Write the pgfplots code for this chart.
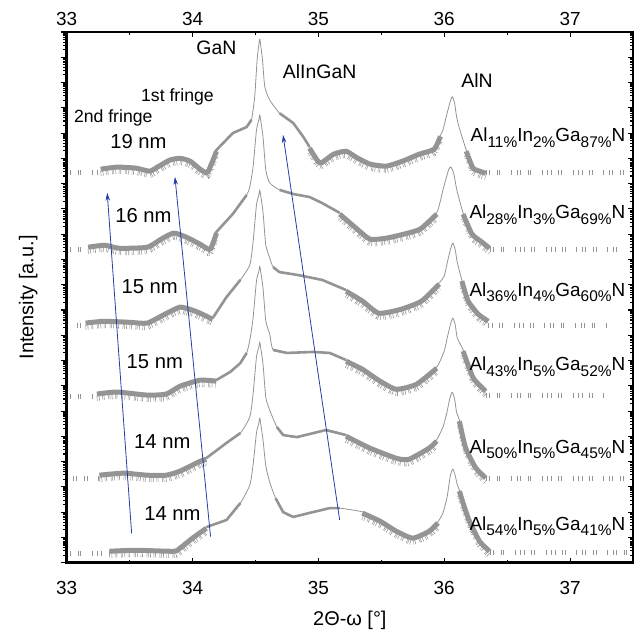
\documentclass[border=0pt]{standalone}
\usepackage{fontspec}
\setmainfont{Liberation Sans}
\usepackage{pgfplots}
\pgfplotsset{compat=1.18}
\usepackage{pgfplotstable}
\usetikzlibrary{arrows.meta}

\definecolor{tracegray}{gray}{0.58}
\definecolor{arrowblue}{RGB}{40,60,165}

% subscripts as in the original figure (large, lowered)
\newcommand{\sub}[1]{\raisebox{-5.5pt}{\fontsize{15.5}{16}\selectfont #1}}

% minor ticks of a log axis, y in decades
\def\minorlist{-1}
\foreach \k in {0,...,20}{%
  \foreach \m in {0.301,0.477,0.602,0.699,0.778,0.845,0.903,0.954}{%
    \pgfmathsetmacro\v{\k+\m}%
    \xdef\minorlist{\minorlist,\v}%
  }%
}

% y = log10 of intensity (a.u.), each scan shifted by 3 decades
\pgfplotstableread{
x d
33.27 15.62
33.40 15.70
33.55 15.66
33.66 15.54
33.72 15.70
33.82 15.98
33.90 16.05
33.98 15.94
34.06 15.62
34.12 15.50
34.19 16.33
34.32 17.00
34.43 17.24
34.468 17.52
34.494 18.44
34.513 19.89
34.527 20.50
34.534 20.72
34.541 20.50
34.556 19.89
34.574 18.84
34.613 18.31
34.693 17.78
34.80 17.40
34.88 16.85
34.93 16.45
34.98 16.05
35.02 15.86
35.12 16.21
35.22 16.33
35.30 16.09
35.41 15.82
35.54 15.74
35.67 15.94
35.80 16.21
35.92 16.41
35.97 16.92
35.99 17.12
36.016 17.65
36.045 18.20
36.063 18.44
36.082 18.20
36.098 17.65
36.12 17.20
36.175 16.33
36.227 15.67
36.28 15.54
36.33 15.46
}\tA

\pgfplotstableread{
x d
33.17 12.53
33.30 12.61
33.42 12.49
33.64 12.53
33.75 12.85
33.85 13.09
33.95 12.93
34.06 12.65
34.14 12.45
34.19 13.09
34.32 13.80
34.43 14.55
34.455 14.87
34.481 15.66
34.508 17.12
34.527 17.52
34.534 17.72
34.541 17.52
34.56 16.85
34.582 15.54
34.613 15.03
34.692 14.75
34.80 14.59
34.93 14.47
35.03 14.23
35.17 13.84
35.30 13.28
35.41 12.85
35.54 12.89
35.68 13.05
35.81 13.25
35.94 13.84
35.99 14.75
36.02 15.30
36.035 15.55
36.05 15.66
36.065 15.55
36.08 15.30
36.10 14.75
36.15 13.84
36.22 13.05
36.29 12.77
36.36 12.49
}\tB

\pgfplotstableread{
x d
33.15 9.53
33.30 9.60
33.50 9.56
33.64 9.53
33.78 9.88
33.90 10.16
34.00 10.04
34.06 9.92
34.16 9.68
34.27 10.51
34.38 11.19
34.455 11.78
34.481 12.69
34.508 14.16
34.527 14.55
34.534 14.75
34.541 14.55
34.56 13.88
34.582 12.57
34.613 12.06
34.64 11.70
34.69 11.50
34.83 11.39
35.03 11.19
35.22 10.79
35.35 10.40
35.48 9.92
35.66 10.08
35.82 10.40
35.96 11.07
36.00 11.35
36.023 11.85
36.048 12.37
36.068 12.65
36.088 12.37
36.103 11.90
36.14 11.19
36.19 10.40
36.27 9.88
36.35 9.60
}\tC

\pgfplotstableread{
x d
33.24 6.72
33.40 6.80
33.64 6.68
33.79 6.72
33.90 7.03
34.06 7.27
34.19 7.23
34.30 7.55
34.38 7.90
34.43 8.30
34.455 8.80
34.481 9.68
34.508 11.15
34.527 11.54
34.534 11.74
34.541 11.54
34.56 10.87
34.582 9.56
34.613 9.05
34.64 8.42
34.75 8.30
34.96 8.34
35.09 8.30
35.22 8.02
35.35 7.70
35.49 7.23
35.62 6.91
35.78 7.11
35.94 7.74
36.00 8.38
36.023 8.88
36.048 9.40
36.068 9.68
36.088 9.40
36.103 8.90
36.15 8.42
36.23 7.36
36.33 6.83
}\tD

\pgfplotstableread{
x d
33.26 3.51
33.45 3.59
33.64 3.51
33.79 3.51
33.90 3.67
34.06 4.06
34.11 4.14
34.27 4.74
34.38 5.13
34.455 5.77
34.481 6.67
34.508 8.14
34.527 8.53
34.534 8.73
34.541 8.53
34.56 7.86
34.582 6.55
34.613 6.04
34.67 5.37
34.72 5.05
34.83 4.97
35.06 5.25
35.22 5.05
35.41 4.58
35.62 4.18
35.72 4.14
35.88 4.58
35.94 4.86
35.99 5.37
36.02 5.92
36.043 6.47
36.063 6.75
36.083 6.47
36.098 5.95
36.12 5.65
36.17 4.59
36.25 3.80
36.33 3.40
}\tE

\pgfplotstableread{
x d
33.34 0.50
33.55 0.54
33.85 0.50
33.90 0.62
34.00 1.02
34.11 1.41
34.27 1.69
34.38 2.36
34.455 3.07
34.481 3.87
34.508 5.14
34.527 5.53
34.534 5.73
34.541 5.53
34.56 4.86
34.582 3.83
34.613 3.19
34.66 2.55
34.72 2.00
34.80 1.81
34.93 1.97
35.09 2.16
35.17 2.16
35.35 2.01
35.49 1.69
35.62 1.29
35.75 1.02
35.88 1.29
35.95 1.62
35.99 1.97
36.023 2.60
36.048 3.43
36.068 3.71
36.088 3.43
36.103 3.10
36.12 2.88
36.16 2.25
36.20 1.69
36.28 0.90
36.36 0.50
}\tF

\pgfplotsset{scan/.style={tracegray, smooth, tension=0.35, line join=round}}

\newcommand{\medium}[3]{%
  \addplot[tracegray, line width=2.6bp, line join=round] table[restrict x to domain=#2:#3] {#1};
}
\newcommand{\heavy}[3]{%
  \addplot[scan, line width=5bp, yshift=-1.2bp] table[restrict x to domain=#2:#3] {#1};
  \addplot[scan, line width=5bp, yshift=-5.5bp,
    dash pattern=on 0.5bp off 1.6bp on 0.6bp off 2.8bp on 0.4bp off 1.1bp on 0.6bp off 3.9bp on 0.5bp off 0.9bp]
    table[restrict x to domain=#2:#3] {#1};
}
\newcommand{\sparse}[3]{%
  \addplot[tracegray, line width=5bp,
    dash pattern=on 0.5bp off 3bp on 0.6bp off 7bp on 0.5bp off 2bp on 0.7bp off 11bp on 0.5bp off 5bp]
    coordinates {(#1,#3) (#2,#3)};
}
\newcommand{\comp}[3]{Al\sub{#1\%}In\sub{#2\%}Ga\sub{#3\%}N}

\begin{document}
\begin{tikzpicture}
\path[use as bounding box] (-66.7bp,-72.3bp) rectangle (575.3bp,562.7bp);

% left ticks (outside) and top tick labels
\begin{axis}[
    at={(0,0)}, anchor=south west, scale only axis,
    width=566.3bp, height=530.7bp,
    xmin=33, xmax=37.5, ymin=0, ymax=21,
    axis line style={draw=none},
    tick align=outside,
    ytick pos=left, xtick pos=right, xticklabel pos=right,
    xtick={33,...,37}, xtick style={draw=none},
    ytick={0,...,21}, yticklabels={},
    minor ytick/.expanded={\minorlist},
    ytick style={line width=1.1bp, black},
    major tick length=6bp, minor tick length=3.5bp,
    ticklabel style={font=\fontsize{19}{22}\selectfont},
    xticklabel style={yshift=-3bp},
    /pgf/number format/assume math mode=true,
]
\end{axis}

\begin{axis}[
    at={(0,0)}, anchor=south west, scale only axis,
    width=566.3bp, height=530.7bp,
    xmin=33, xmax=37.5, ymin=0, ymax=21,
    axis line style={line width=1.1bp, black},
    tick align=inside,
    xtick pos=both, xticklabel pos=left, ytick pos=right,
    xtick={33,...,37}, minor x tick num=1,
    ytick={0,...,21}, yticklabels={},
    minor ytick/.expanded={\minorlist},
    tick style={line width=1.1bp, black},
    major tick length=5bp, minor tick length=3bp,
    ticklabel style={font=\fontsize{19}{22}\selectfont},
    xticklabel style={yshift=-15bp},
    /pgf/number format/assume math mode=true,
    xlabel={2Θ-ω [°]}, ylabel={Intensity [a.u.]},
    xlabel style={at={(axis description cs:0.5,-0.108)}, anchor=center,
        font=\fontsize{20}{24}\selectfont},
    ylabel style={at={(axis description cs:-0.068,0.5)}, anchor=center,
        font=\fontsize{20}{24}\selectfont},
]
% thin scans
\addplot[scan, line width=0.8bp] table {\tA};
\addplot[scan, line width=0.8bp] table {\tB};
\addplot[scan, line width=0.8bp] table {\tC};
\addplot[scan, line width=0.8bp] table {\tD};
\addplot[scan, line width=0.8bp] table {\tE};
\addplot[scan, line width=0.8bp] table {\tF};

% noisy parts of the scans
\heavy{\tA}{33.2}{34.2}  \medium{\tA}{34.1}{34.47}
\medium{\tA}{34.62}{34.95} \heavy{\tA}{34.9}{35.97} \heavy{\tA}{36.15}{36.4}
\heavy{\tB}{33.1}{34.2}  \medium{\tB}{34.1}{34.45}
\medium{\tB}{34.62}{35.2} \heavy{\tB}{35.15}{35.97} \heavy{\tB}{36.13}{36.4}
\heavy{\tC}{33.1}{34.2}  \medium{\tC}{34.1}{34.45}
\medium{\tC}{34.62}{35.25} \heavy{\tC}{35.2}{35.97} \heavy{\tC}{36.12}{36.4}
\heavy{\tD}{33.1}{34.2}  \medium{\tD}{34.1}{34.45}
\medium{\tD}{34.62}{35.25} \heavy{\tD}{35.2}{35.97} \heavy{\tD}{36.12}{36.4}
\heavy{\tE}{33.1}{34.2}  \medium{\tE}{34.1}{34.45}
\medium{\tE}{34.62}{35.25} \heavy{\tE}{35.2}{35.97} \heavy{\tE}{36.12}{36.4}
\heavy{\tF}{33.1}{34.2}  \medium{\tF}{34.1}{34.45}
\medium{\tF}{34.62}{35.25} \heavy{\tF}{35.2}{35.97} \heavy{\tF}{36.12}{36.4}

% sparse counts at the background level
\sparse{33.00}{33.27}{15.46} \sparse{36.33}{37.44}{15.46}
\sparse{33.00}{33.17}{12.40} \sparse{36.36}{37.40}{12.40}
\sparse{33.08}{33.15}{9.37}  \sparse{36.35}{37.31}{9.40}
\sparse{33.00}{33.24}{6.56}  \sparse{36.33}{37.30}{6.60}
\sparse{33.05}{33.26}{3.35}  \sparse{36.33}{37.45}{3.35}
\sparse{33.00}{33.34}{0.35}  \sparse{36.36}{37.45}{0.40}

% arrows following the fringes and the AlInGaN peak
\draw[arrowblue, line width=0.8bp, -{Stealth[length=8bp,width=4.5bp]}]
    (axis cs:33.516,1.16) -- (axis cs:33.322,14.64);
\draw[arrowblue, line width=0.8bp, -{Stealth[length=8bp,width=4.5bp]}]
    (axis cs:34.143,1.03) -- (axis cs:33.86,15.27);
\draw[arrowblue, line width=0.8bp, -{Stealth[length=8bp,width=4.5bp]}]
    (axis cs:35.169,1.69) -- (axis cs:34.719,16.93);

% peak and fringe names
\node[font=\fontsize{19.5}{22}\selectfont] at (axis cs:34.19,20.37) {GaN};
\node[font=\fontsize{19.5}{22}\selectfont] at (axis cs:35.01,19.42) {AlInGaN};
\node[font=\fontsize{19.5}{22}\selectfont] at (axis cs:36.26,19.10) {AlN};
\node[font=\fontsize{17.7}{20}\selectfont] at (axis cs:33.88,18.42) {1st fringe};
\node[font=\fontsize{17.7}{20}\selectfont] at (axis cs:33.37,17.59) {2nd fringe};

% layer thicknesses
\node[font=\fontsize{20.3}{22}\selectfont] at (axis cs:33.57,16.65) {19 nm};
\node[font=\fontsize{20.3}{22}\selectfont] at (axis cs:33.61,13.75) {16 nm};
\node[font=\fontsize{20.3}{22}\selectfont] at (axis cs:33.66,10.91) {15 nm};
\node[font=\fontsize{20.3}{22}\selectfont] at (axis cs:33.70,7.94) {15 nm};
\node[font=\fontsize{20.3}{22}\selectfont] at (axis cs:33.76,4.78) {14 nm};
\node[font=\fontsize{20.3}{22}\selectfont] at (axis cs:33.84,1.93) {14 nm};

% compositions
\begin{scope}[every node/.style={anchor=base east, inner sep=0pt,
    font=\fontsize{19}{22}\selectfont}]
\node at (axis cs:37.44,16.66) {\comp{11}{2}{87}};
\node at (axis cs:37.44,13.61) {\comp{28}{3}{69}};
\node at (axis cs:37.44,10.55) {\comp{36}{4}{60}};
\node at (axis cs:37.44,7.59)  {\comp{43}{5}{52}};
\node at (axis cs:37.44,4.34)  {\comp{50}{5}{45}};
\node at (axis cs:37.44,1.29)  {\comp{54}{5}{41}};
\end{scope}
\end{axis}

% heavier left and bottom axis lines
\draw[line width=2.5bp, line cap=rect] (0,530.7bp) -- (0,0) -- (566.3bp,0);
\end{tikzpicture}
\end{document}
